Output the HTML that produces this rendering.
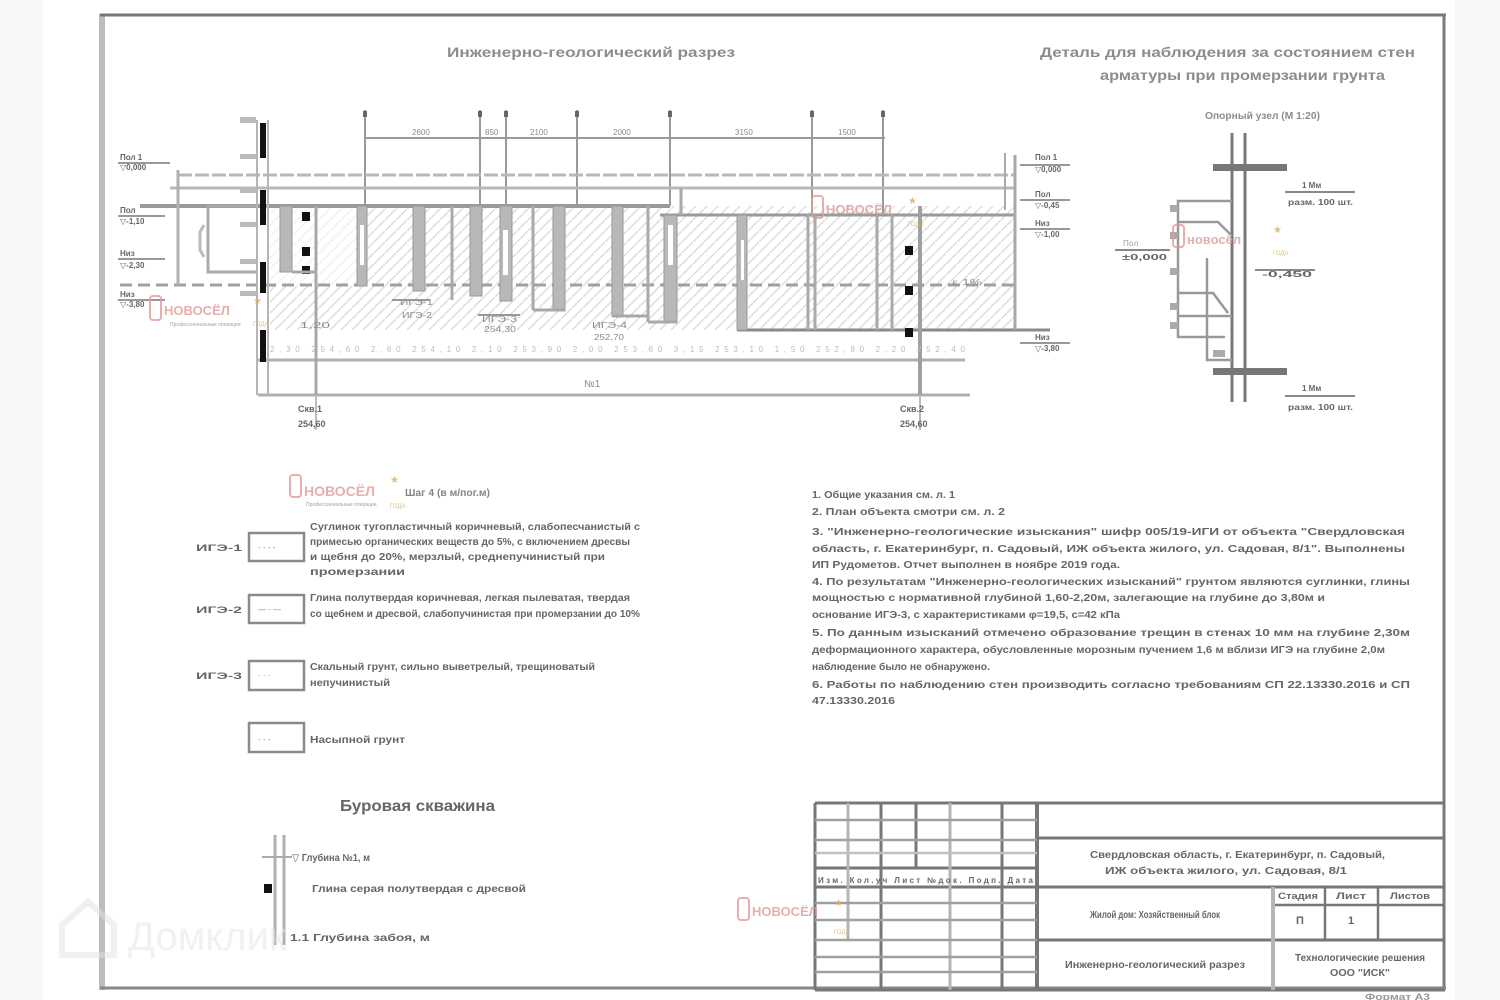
<!DOCTYPE html>
<html><head><meta charset="utf-8"><style>
html,body{margin:0;padding:0;background:#f7f7f5;}
svg{display:block;}
.t{font-family:"Liberation Sans","DejaVu Sans",sans-serif;fill:#8a8a8a;}
.tt{font-family:"Liberation Sans","DejaVu Sans",sans-serif;fill:#8c8c8c;font-weight:600;}
.d{font-family:"Liberation Sans","DejaVu Sans",sans-serif;fill:#666;font-weight:600;}
.w{font-family:"Liberation Sans","DejaVu Sans",sans-serif;fill:#e29a9a;font-weight:bold;}
.g{font-family:"Liberation Sans","DejaVu Sans",sans-serif;fill:#d8b060;}
</style></head><body>
<svg width="1500" height="1000" viewBox="0 0 1500 1000" xmlns="http://www.w3.org/2000/svg">
<defs>
<pattern id="h" patternUnits="userSpaceOnUse" width="11" height="11">
<path d="M0,11 L11,0" stroke="#dcdcdc" stroke-width="1.5"/>
</pattern>
</defs>
<!-- page -->
<rect x="0" y="0" width="1500" height="1000" fill="#f7f7f5"/>
<rect x="43" y="0" width="1412" height="1000" fill="#ffffff"/>
<!-- frame -->
<line x1="102" y1="14" x2="102" y2="990" stroke="#bdbdbd" stroke-width="6"/>
<line x1="100" y1="15" x2="1446" y2="15" stroke="#777" stroke-width="3"/>
<line x1="1444" y1="14" x2="1444" y2="990" stroke="#7a7a7a" stroke-width="3"/>
<line x1="100" y1="988" x2="1446" y2="988" stroke="#888" stroke-width="3"/>

<!-- titles -->
<text class="tt" x="447" y="57" font-size="14" textLength="288" lengthAdjust="spacingAndGlyphs">Инженерно-геологический разрез</text>
<text class="tt" x="1040" y="57" font-size="14" textLength="375" lengthAdjust="spacingAndGlyphs">Деталь для наблюдения за состоянием стен</text>
<text class="tt" x="1100" y="80" font-size="14" textLength="285" lengthAdjust="spacingAndGlyphs">арматуры при промерзании грунта</text>
<text class="tt" x="1205" y="119" font-size="10" textLength="115" lengthAdjust="spacingAndGlyphs">Опорный узел (М 1:20)</text>

<!-- ===== main section ===== -->
<rect x="270" y="206" width="745" height="124" fill="url(#h)"/>
<rect x="270" y="206" width="90" height="80" fill="#fff" opacity="0.6"/>

<!-- top dimension -->
<g stroke="#9a9a9a" stroke-width="2">
<line x1="365" y1="138" x2="885" y2="138"/>
<line x1="365" y1="110" x2="365" y2="206"/>
<line x1="480" y1="110" x2="480" y2="206"/>
<line x1="506" y1="110" x2="506" y2="206"/>
<line x1="577" y1="110" x2="577" y2="206"/>
<line x1="670" y1="110" x2="670" y2="206"/>
<line x1="812" y1="110" x2="812" y2="215"/>
<line x1="883" y1="110" x2="883" y2="215"/>
</g>
<g fill="#666">
<rect x="363" y="111" width="4" height="6"/><rect x="478" y="111" width="4" height="6"/><rect x="504" y="111" width="4" height="6"/>
<rect x="575" y="111" width="4" height="6"/><rect x="668" y="111" width="4" height="6"/><rect x="810" y="111" width="4" height="6"/><rect x="881" y="111" width="4" height="6"/>
</g>
<g class="t" font-size="8">
<text x="412" y="135">2600</text><text x="485" y="135">850</text><text x="530" y="135">2100</text>
<text x="613" y="135">2000</text><text x="735" y="135">3150</text><text x="838" y="135">1500</text>
</g>

<!-- horizontal lines -->
<g stroke="#b8b8b8" stroke-width="3">
<line x1="178" y1="175" x2="1015" y2="175" stroke-dasharray="14,3"/>
<line x1="170" y1="188" x2="1015" y2="188"/>
</g>
<line x1="140" y1="206" x2="670" y2="206" stroke="#9a9a9a" stroke-width="4"/>
<line x1="660" y1="215" x2="1015" y2="215" stroke="#9a9a9a" stroke-width="3"/>
<line x1="120" y1="285" x2="1015" y2="285" stroke="#a0a0a0" stroke-width="3" stroke-dasharray="12,6"/>
<line x1="737" y1="330" x2="1050" y2="330" stroke="#8a8a8a" stroke-width="3"/>
<line x1="258" y1="360" x2="965" y2="360" stroke="#b0b0b0" stroke-width="3"/>
<line x1="258" y1="395" x2="970" y2="395" stroke="#b0b0b0" stroke-width="3"/>
<line x1="1015" y1="155" x2="1015" y2="330" stroke="#a8a8a8" stroke-width="3"/>
<line x1="178" y1="170" x2="178" y2="285" stroke="#b0b0b0" stroke-width="3"/>

<!-- left rect -->
<path d="M258,206 L208,206 L208,272 L258,272" fill="none" stroke="#aaa" stroke-width="3"/>
<path d="M204,225 L200,232 L200,250 L204,257" fill="none" stroke="#bbb" stroke-width="3"/>

<!-- pile line -->
<line x1="257" y1="120" x2="257" y2="395" stroke="#b5b5b5" stroke-width="2"/>
<line x1="268" y1="120" x2="268" y2="395" stroke="#b5b5b5" stroke-width="2"/>
<g fill="#111">
<rect x="260" y="123" width="6" height="35"/>
<rect x="260" y="190" width="6" height="35"/>
<rect x="260" y="262" width="6" height="31"/>
<rect x="260" y="330" width="6" height="32"/>
</g>
<g fill="#bbb">
<rect x="240" y="117" width="16" height="6"/><rect x="240" y="154" width="16" height="5"/><rect x="240" y="188" width="16" height="5"/>
<rect x="240" y="222" width="16" height="5"/><rect x="240" y="259" width="16" height="5"/><rect x="240" y="291" width="16" height="5"/>
</g>
<line x1="316" y1="206" x2="316" y2="395" stroke="#a8a8a8" stroke-width="3"/>
<g fill="#111">
<rect x="302" y="212" width="8" height="9"/><rect x="302" y="247" width="8" height="9"/><rect x="302" y="266" width="8" height="8"/>
<rect x="905" y="246" width="8" height="9"/><rect x="905" y="286" width="8" height="9"/><rect x="905" y="328" width="8" height="9"/>
</g>

<!-- boreholes -->
<g fill="#b8b8b8" stroke="#999" stroke-width="1">
<rect x="280" y="206" width="12" height="66"/>
<rect x="357" y="206" width="10" height="80"/>
<rect x="413" y="206" width="12" height="85"/>
<rect x="470" y="206" width="12" height="90"/>
<rect x="500" y="206" width="12" height="95"/>
<rect x="553" y="206" width="12" height="105"/>
<rect x="612" y="206" width="11" height="110"/>
<rect x="664" y="215" width="13" height="108"/>
<rect x="737" y="215" width="10" height="115"/>
</g>
<g fill="#fff"><rect x="360" y="225" width="4" height="40"/><rect x="503" y="230" width="5" height="45"/><rect x="741" y="240" width="3" height="40"/><rect x="668" y="225" width="5" height="40"/></g>
<g stroke="#aaa" stroke-width="3">
<line x1="452" y1="206" x2="452" y2="300"/>
<line x1="533" y1="206" x2="533" y2="310"/>
<line x1="648" y1="206" x2="648" y2="322"/>
<line x1="681" y1="188" x2="681" y2="215"/>
<line x1="808" y1="215" x2="808" y2="330"/>
<line x1="815" y1="215" x2="815" y2="330"/>
<line x1="877" y1="215" x2="877" y2="330"/>
<line x1="892" y1="215" x2="892" y2="330"/>
<line x1="920" y1="206" x2="920" y2="395" stroke-width="4" stroke="#a0a0a0"/>
<line x1="1005" y1="153" x2="1005" y2="210" stroke-width="2"/>
</g>
<g stroke="#a8a8a8" stroke-width="3">
<line x1="292" y1="272" x2="316" y2="272"/>
<line x1="533" y1="310" x2="565" y2="310"/>
<line x1="612" y1="316" x2="648" y2="316"/>
<line x1="648" y1="322" x2="677" y2="322"/>
</g>

<!-- section labels -->
<g class="t" font-size="8">
<text x="400" y="305" textLength="33" lengthAdjust="spacingAndGlyphs">ИГЭ-1</text>
<text x="402" y="318" textLength="30" lengthAdjust="spacingAndGlyphs">ИГЭ-2</text>
<text x="482" y="322" textLength="35" lengthAdjust="spacingAndGlyphs">ИГЭ-3</text>
<text x="484" y="332" textLength="32" lengthAdjust="spacingAndGlyphs">254,30</text>
<text x="592" y="328" textLength="35" lengthAdjust="spacingAndGlyphs">ИГЭ-4</text>
<text x="594" y="340" textLength="30" lengthAdjust="spacingAndGlyphs">252,70</text>
<text x="300" y="328" textLength="30" lengthAdjust="spacingAndGlyphs">1,20</text>
<text x="952" y="285" textLength="30" lengthAdjust="spacingAndGlyphs">ε 1%</text>
<text x="270" y="352" textLength="695" lengthAdjust="spacing" fill="#bbb">2,30   254,60   2,60   254,10   2,10   253,90   2,00   253,60   3,15   253,10   1,50   252,80   2,20   252,40</text>
<text x="584" y="387" font-size="10" fill="#888">№1</text>
</g>
<line x1="392" y1="300" x2="430" y2="300" stroke="#999" stroke-width="2"/>
<line x1="478" y1="315" x2="520" y2="315" stroke="#999" stroke-width="2"/>

<!-- left labels -->
<g class="d" font-size="8">
<text x="120" y="160">Пол 1</text><text x="120" y="170">▽0,000</text>
<text x="120" y="213">Пол</text><text x="120" y="224">▽-1,10</text>
<text x="120" y="256">Низ</text><text x="120" y="268">▽-2,30</text>
<text x="120" y="297">Низ</text><text x="120" y="307">▽-3,80</text>
</g>
<g stroke="#999" stroke-width="2">
<line x1="118" y1="163" x2="170" y2="163"/><line x1="118" y1="216" x2="165" y2="216"/>
<line x1="118" y1="259" x2="165" y2="259"/><line x1="118" y1="300" x2="165" y2="300"/>
</g>

<!-- right labels -->
<g class="d" font-size="8">
<text x="1035" y="160">Пол 1</text><text x="1035" y="172">▽0,000</text>
<text x="1035" y="197">Пол</text><text x="1035" y="208">▽-0,45</text>
<text x="1035" y="226">Низ</text><text x="1035" y="237">▽-1,00</text>
<text x="1035" y="340">Низ</text><text x="1035" y="351">▽-3,80</text>
</g>
<g stroke="#999" stroke-width="2">
<line x1="1020" y1="165" x2="1070" y2="165"/><line x1="1020" y1="200" x2="1070" y2="200"/>
<line x1="1020" y1="229" x2="1070" y2="229"/><line x1="1020" y1="343" x2="1070" y2="343"/>
</g>

<!-- bottom borehole labels -->
<line x1="316" y1="395" x2="316" y2="430" stroke="#bbb" stroke-width="2"/>
<line x1="920" y1="395" x2="920" y2="430" stroke="#bbb" stroke-width="2"/>
<g class="d" font-size="9">
<text x="298" y="412">Скв.1</text><text x="298" y="427">254,60</text>
<text x="900" y="412">Скв.2</text><text x="900" y="427">254,60</text>
</g>

<!-- ===== right detail ===== -->
<line x1="1232" y1="133" x2="1232" y2="402" stroke="#777" stroke-width="3"/>
<line x1="1245" y1="133" x2="1245" y2="402" stroke="#777" stroke-width="3"/>
<rect x="1213" y="164" width="74" height="7" fill="#777"/>
<rect x="1213" y="368" width="74" height="7" fill="#777"/>
<g fill="none" stroke="#999" stroke-width="2.5">
<path d="M1232,201 L1178,201 L1178,337 L1225,337"/>
<path d="M1178,222 L1218,222 L1232,236"/>
<path d="M1178,293 L1213,293 L1228,313"/>
<line x1="1178" y1="316" x2="1232" y2="316"/>
<path d="M1207,258 L1207,360 L1232,360"/>
</g>
<g fill="#aaa"><rect x="1170" y="205" width="8" height="7"/><rect x="1170" y="232" width="8" height="7"/><rect x="1170" y="268" width="8" height="7"/><rect x="1170" y="303" width="8" height="7"/><rect x="1170" y="322" width="8" height="7"/><rect x="1213" y="350" width="12" height="7"/></g>
<g class="d" font-size="8">
<text x="1123" y="246" fill="#bbb">Пол</text><text x="1122" y="260" textLength="45" lengthAdjust="spacingAndGlyphs">±0,000</text>
<text x="1302" y="188">1 Мм</text><text x="1288" y="205" textLength="65" lengthAdjust="spacingAndGlyphs">разм. 100 шт.</text>
<text x="1262" y="277" textLength="50" lengthAdjust="spacingAndGlyphs">-0,450</text>
<text x="1302" y="391">1 Мм</text><text x="1288" y="410" textLength="65" lengthAdjust="spacingAndGlyphs">разм. 100 шт.</text>
</g>
<g stroke="#888" stroke-width="2">
<line x1="1115" y1="250" x2="1170" y2="250"/>
<line x1="1285" y1="192" x2="1355" y2="192"/>
<line x1="1255" y1="270" x2="1315" y2="270"/>
<line x1="1285" y1="396" x2="1355" y2="396"/>
</g>

<!-- ===== legend ===== -->
<g fill="none" stroke="#8a8a8a" stroke-width="2.5">
<rect x="249" y="533" width="55" height="28"/>
<rect x="249" y="595" width="55" height="28"/>
<rect x="249" y="661" width="55" height="29"/>
<rect x="249" y="723" width="55" height="29"/>
</g>
<g class="t" font-size="8" fill="#aaa">
<text x="258" y="550">- - - -</text><text x="258" y="612">— - —</text><text x="258" y="678">· · ·</text><text x="258" y="742">- - -</text>
</g>
<g class="d" font-size="9">
<text x="196" y="551" textLength="46" lengthAdjust="spacingAndGlyphs">ИГЭ-1</text>
<text x="196" y="613" textLength="46" lengthAdjust="spacingAndGlyphs">ИГЭ-2</text>
<text x="196" y="679" textLength="46" lengthAdjust="spacingAndGlyphs">ИГЭ-3</text>
</g>
<g class="d" font-size="10">
<text x="310" y="530" textLength="330" lengthAdjust="spacingAndGlyphs">Суглинок тугопластичный коричневый, слабопесчанистый с</text>
<text x="310" y="545" textLength="320" lengthAdjust="spacingAndGlyphs">примесью органических веществ до 5%, с включением дресвы</text>
<text x="310" y="560" textLength="295" lengthAdjust="spacingAndGlyphs">и щебня до 20%, мерзлый, среднепучинистый при</text>
<text x="310" y="575" textLength="95" lengthAdjust="spacingAndGlyphs">промерзании</text>
<text x="310" y="601" textLength="320" lengthAdjust="spacingAndGlyphs">Глина полутвердая коричневая, легкая пылеватая, твердая</text>
<text x="310" y="617" textLength="330" lengthAdjust="spacingAndGlyphs">со щебнем и дресвой, слабопучинистая при промерзании до 10%</text>
<text x="310" y="670" textLength="285" lengthAdjust="spacingAndGlyphs">Скальный грунт, сильно выветрелый, трещиноватый</text>
<text x="310" y="686" textLength="80" lengthAdjust="spacingAndGlyphs">непучинистый</text>
<text x="310" y="743" textLength="95" lengthAdjust="spacingAndGlyphs">Насыпной грунт</text>
</g>

<!-- ===== notes ===== -->
<g class="d" font-size="10">
<text x="812" y="498" textLength="143" lengthAdjust="spacingAndGlyphs">1. Общие указания см. л. 1</text>
<text x="812" y="515" textLength="193" lengthAdjust="spacingAndGlyphs">2. План объекта смотри см. л. 2</text>
<text x="812" y="535" textLength="593" lengthAdjust="spacingAndGlyphs">3. "Инженерно-геологические изыскания" шифр 005/19-ИГИ от объекта "Свердловская</text>
<text x="812" y="552" textLength="593" lengthAdjust="spacingAndGlyphs">область, г. Екатеринбург, п. Садовый, ИЖ объекта жилого, ул. Садовая, 8/1". Выполнены</text>
<text x="812" y="568" textLength="308" lengthAdjust="spacingAndGlyphs">ИП Рудометов. Отчет выполнен в ноябре 2019 года.</text>
<text x="812" y="585" textLength="598" lengthAdjust="spacingAndGlyphs">4. По результатам "Инженерно-геологических изысканий" грунтом являются суглинки, глины</text>
<text x="812" y="601" textLength="513" lengthAdjust="spacingAndGlyphs">мощностью с нормативной глубиной 1,60-2,20м, залегающие на глубине до 3,80м и</text>
<text x="812" y="618" textLength="308" lengthAdjust="spacingAndGlyphs">основание ИГЭ-3, с характеристиками φ=19,5, с=42 кПа</text>
<text x="812" y="636" textLength="598" lengthAdjust="spacingAndGlyphs">5. По данным изысканий отмечено образование трещин в стенах 10 мм на глубине 2,30м</text>
<text x="812" y="653" textLength="573" lengthAdjust="spacingAndGlyphs">деформационного характера, обусловленные морозным пучением 1,6 м вблизи ИГЭ на глубине 2,0м</text>
<text x="812" y="670" textLength="178" lengthAdjust="spacingAndGlyphs">наблюдение было не обнаружено.</text>
<text x="812" y="688" textLength="598" lengthAdjust="spacingAndGlyphs">6. Работы по наблюдению стен производить согласно требованиям СП 22.13330.2016 и СП</text>
<text x="812" y="704" textLength="83" lengthAdjust="spacingAndGlyphs">47.13330.2016</text>
</g>

<!-- ===== borehole column ===== -->
<text class="d" x="340" y="811" font-size="16" textLength="155" lengthAdjust="spacingAndGlyphs">Буровая скважина</text>
<line x1="275" y1="835" x2="275" y2="945" stroke="#b0b0b0" stroke-width="3"/>
<line x1="284" y1="835" x2="284" y2="945" stroke="#b0b0b0" stroke-width="3"/>
<line x1="262" y1="857" x2="292" y2="857" stroke="#aaa" stroke-width="2"/>
<rect x="264" y="884" width="8" height="9" fill="#111"/>
<g class="d" font-size="10">
<text x="292" y="861" textLength="78" lengthAdjust="spacingAndGlyphs">▽ Глубина №1, м</text>
<text x="312" y="892" textLength="214" lengthAdjust="spacingAndGlyphs">Глина серая полутвердая с дресвой</text>
<text x="290" y="941" textLength="140" lengthAdjust="spacingAndGlyphs">1.1 Глубина забоя, м</text>
</g>

<!-- ===== title block ===== -->
<g stroke="#777" stroke-width="3" fill="none">
<line x1="815" y1="803" x2="1445" y2="803"/>
<line x1="815" y1="803" x2="815" y2="990"/>
<line x1="881" y1="803" x2="881" y2="990"/>
<line x1="916" y1="803" x2="916" y2="868"/>
<line x1="1002" y1="803" x2="1002" y2="990"/>
<line x1="1037" y1="803" x2="1037" y2="990" stroke-width="4"/>
<line x1="815" y1="868" x2="1037" y2="868"/>
<line x1="815" y1="887" x2="1445" y2="887"/>
<line x1="1037" y1="838" x2="1445" y2="838"/>
<line x1="1037" y1="940" x2="1445" y2="940"/>
<line x1="815" y1="990" x2="1445" y2="990"/>
<line x1="1325" y1="887" x2="1325" y2="940" stroke-width="2.5"/>
<line x1="1378" y1="887" x2="1378" y2="940" stroke-width="2.5"/>
<line x1="1273" y1="905" x2="1445" y2="905" stroke-width="2.5"/>
</g>
<g stroke="#b5b5b5" stroke-width="3">
<line x1="848" y1="803" x2="848" y2="940"/>
<line x1="950" y1="803" x2="950" y2="990"/>
<line x1="1273" y1="887" x2="1273" y2="990" stroke-width="4"/>
</g>
<g stroke="#a0a0a0" stroke-width="2.5">
<line x1="815" y1="820" x2="1037" y2="820"/>
<line x1="815" y1="840" x2="1037" y2="840"/>
<line x1="815" y1="853" x2="1037" y2="853" stroke="#c0c0c0"/>
<line x1="815" y1="903" x2="1037" y2="903"/>
<line x1="815" y1="920" x2="1037" y2="920"/>
<line x1="815" y1="940" x2="1037" y2="940"/>
<line x1="815" y1="957" x2="1037" y2="957"/>
<line x1="815" y1="972" x2="1037" y2="972"/>
</g>
<g class="d" font-size="8">
<text x="818" y="883" textLength="215" lengthAdjust="spacing">Изм. Кол.уч Лист №док. Подп. Дата</text>
</g>
<g class="d" font-size="10">
<text x="1090" y="858" textLength="295" lengthAdjust="spacingAndGlyphs">Свердловская область, г. Екатеринбург, п. Садовый,</text>
<text x="1105" y="874" textLength="242" lengthAdjust="spacingAndGlyphs">ИЖ объекта жилого, ул. Садовая, 8/1</text>
<text x="1090" y="918" textLength="130" lengthAdjust="spacingAndGlyphs">Жилой дом: Хозяйственный блок</text>
<text x="1065" y="968" textLength="180" lengthAdjust="spacingAndGlyphs">Инженерно-геологический разрез</text>
<text x="1295" y="961" textLength="130" lengthAdjust="spacingAndGlyphs">Технологические решения</text>
<text x="1330" y="976" textLength="60" lengthAdjust="spacingAndGlyphs">ООО "ИСК"</text>
</g>
<g class="d" font-size="9">
<text x="1278" y="899" textLength="40" lengthAdjust="spacingAndGlyphs">Стадия</text>
<text x="1336" y="899" textLength="30" lengthAdjust="spacingAndGlyphs">Лист</text>
<text x="1390" y="899" textLength="40" lengthAdjust="spacingAndGlyphs">Листов</text>
<text x="1296" y="924" font-size="11">П</text>
<text x="1348" y="924" font-size="11">1</text>
<text x="1365" y="1000" textLength="65" lengthAdjust="spacingAndGlyphs" fill="#999">Формат А3</text>
</g>

<!-- ===== watermarks ===== -->
<g opacity="0.8">
<g transform="translate(150,296)">
<rect x="0" y="0" width="11" height="24" rx="3" fill="none" stroke="#e29a9a" stroke-width="2"/>
<text class="w" x="14" y="19" font-size="13">НОВОСЁЛ</text>
<text class="t" x="20" y="30" font-size="5">Профессиональные операции</text>
<text class="g" x="103" y="8" font-size="10">★</text><text class="g" x="103" y="30" font-size="6">ГОДА</text>
</g>
<g transform="translate(812,196)">
<rect x="0" y="0" width="11" height="22" rx="3" fill="none" stroke="#e29a9a" stroke-width="2"/>
<text class="w" x="14" y="18" font-size="13">НОВОСЁЛ</text>
<text class="g" x="96" y="8" font-size="10">★</text><text class="g" x="96" y="30" font-size="6">ГОДА</text>
</g>
<g transform="translate(1173,225)">
<rect x="0" y="0" width="11" height="22" rx="3" fill="none" stroke="#e29a9a" stroke-width="2"/>
<text class="w" x="14" y="19" font-size="13">новосёл</text>
<text class="g" x="100" y="8" font-size="10">★</text><text class="g" x="100" y="30" font-size="6">ГОДА</text>
</g>
<g transform="translate(290,475)">
<rect x="0" y="0" width="11" height="22" rx="3" fill="none" stroke="#e29a9a" stroke-width="2"/>
<text class="w" x="14" y="21" font-size="14">НОВОСЁЛ</text>
<text class="t" x="16" y="31" font-size="5">Профессиональные операции</text>
<text class="g" x="100" y="8" font-size="10">★</text><text class="g" x="100" y="33" font-size="6">ГОДА</text>
<text class="d" x="115" y="21" font-size="10" textLength="85" lengthAdjust="spacingAndGlyphs">Шаг 4 (в м/пог.м)</text>
</g>
<g transform="translate(738,898)">
<rect x="0" y="0" width="11" height="22" rx="3" fill="none" stroke="#e29a9a" stroke-width="2"/>
<text class="w" x="14" y="18" font-size="13">НОВОСЁЛ</text>
<text class="g" x="96" y="8" font-size="10">★</text><text class="g" x="96" y="36" font-size="6">ГОДА</text>
</g>
</g>
<g opacity="0.5">
<path d="M62,925 L88,902 L114,925 L114,955 L62,955 Z" fill="none" stroke="#e2e2e2" stroke-width="6"/>
<text x="128" y="950" font-family="Liberation Sans, sans-serif" font-size="40" fill="#e4e4e4">Домклик</text>
</g>
</svg>
</body></html>
